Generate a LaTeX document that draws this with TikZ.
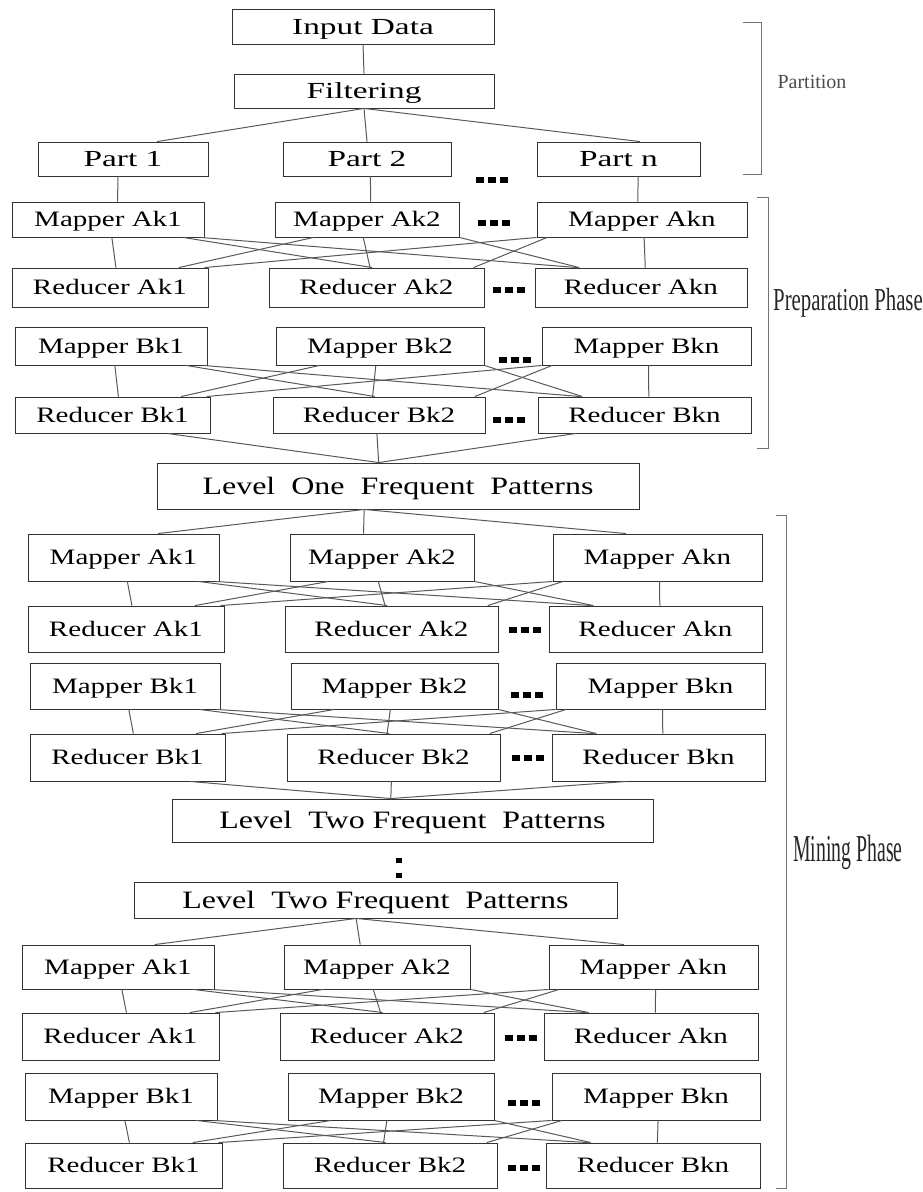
\documentclass[tikz,border=0pt]{standalone}
\usepackage{fontspec}
\setmainfont{Liberation Serif}
\newfontfamily\topfont[FakeStretch=1.45]{Liberation Serif}
\newfontfamily\boxfont[FakeStretch=1.32]{Liberation Serif}
\newfontfamily\levelfont[FakeStretch=1.28]{Liberation Serif}
\newfontfamily\prepfont[FakeStretch=0.65]{Liberation Serif}
\newfontfamily\minefont[FakeStretch=0.52]{Liberation Serif}
\usetikzlibrary{calc,positioning}
\newcommand{\sqdots}{\rule{8pt}{6pt}\hspace{4pt}\rule{8pt}{6pt}\hspace{4pt}\rule{8pt}{6pt}}
\newcommand{\sqcolon}{\vbox{\hbox{\rule{6pt}{5pt}}\kern3pt\hbox{\rule{6pt}{5pt}}}}

\begin{document}
\begin{tikzpicture}[x=1pt, y=-1pt,
    box/.style={draw=black!80, line width=0.9pt, inner sep=0pt, text depth=0pt},
    boxsize/.style 2 args={minimum width=#1pt, minimum height=#2pt},
    topbox/.style={box, text height=15.2pt, font=\topfont\fontsize{23}{25}\selectfont},
    mrbox/.style={box, text height=14.5pt, font=\boxfont\fontsize{22}{24}\selectfont},
    lvlbox/.style={box, text height=16.5pt, font=\levelfont\fontsize{25}{27}\selectfont},
    link/.style={draw=black!65, line width=1pt},
    bracket/.style={draw=black!55, line width=1pt},
    dotsnode/.style={inner sep=0pt}]
    \useasboundingbox (0,0) rectangle (923,1192);

    % Partition
    \node[topbox, boxsize={262}{35}] (in) at (363,26.5) {Input Data};
    \node[topbox, boxsize={260}{34}] (filt) at (364,91) {Filtering};
    \node[topbox, boxsize={170}{34}] (p1) at (123,159) {Part 1};
    \node[topbox, boxsize={168}{34}] (p2) at (367,159) {Part 2};
    \node[topbox, boxsize={163}{34}] (pn) at (618.5,159) {Part n};
    \node[dotsnode] (pdots) at (492,180) {\sqdots};

    % Preparation phase
    \node[mrbox, boxsize={192}{35}] (pam1) at (108,219.5) {Mapper Ak1};
    \node[mrbox, boxsize={184}{35}] (pam2) at (367,219.5) {Mapper Ak2};
    \node[mrbox, boxsize={210}{35}] (pamn) at (642,219.5) {Mapper Akn};
    \node[dotsnode] (pamdots) at (494,223) {\sqdots};
    \node[mrbox, boxsize={196}{39}] (par1) at (110,287.5) {Reducer Ak1};
    \node[mrbox, boxsize={215}{39}] (par2) at (376.5,287.5) {Reducer Ak2};
    \node[mrbox, boxsize={212}{39}] (parn) at (641,287.5) {Reducer Akn};
    \node[dotsnode] (pardots) at (509,290) {\sqdots};
    \node[mrbox, boxsize={192}{38}] (pbm1) at (111,346) {Mapper Bk1};
    \node[mrbox, boxsize={208}{38}] (pbm2) at (380,346) {Mapper Bk2};
    \node[mrbox, boxsize={209}{38}] (pbmn) at (646.5,346) {Mapper Bkn};
    \node[dotsnode] (pbmdots) at (515,360) {\sqdots};
    \node[mrbox, boxsize={195}{36}] (pbr1) at (112.5,415) {Reducer Bk1};
    \node[mrbox, boxsize={212}{36}] (pbr2) at (379,415) {Reducer Bk2};
    \node[mrbox, boxsize={213}{36}] (pbrn) at (644.5,415) {Reducer Bkn};
    \node[dotsnode] (pbrdots) at (509,420) {\sqdots};

    \node[lvlbox, boxsize={482}{46}] (lone) at (398,486) {Level\ \ One\ \ Frequent\ \ Patterns};

    % Mining phase
    \node[mrbox, boxsize={191}{47}] (mam1) at (123.5,557.5) {Mapper Ak1};
    \node[mrbox, boxsize={184}{47}] (mam2) at (382,557.5) {Mapper Ak2};
    \node[mrbox, boxsize={209}{47}] (mamn) at (657.5,557.5) {Mapper Akn};
    \node[mrbox, boxsize={196}{46}] (mar1) at (126,629) {Reducer Ak1};
    \node[mrbox, boxsize={213}{46}] (mar2) at (391.5,629) {Reducer Ak2};
    \node[mrbox, boxsize={213}{46}] (marn) at (655.5,629) {Reducer Akn};
    \node[dotsnode] (mardots) at (525,630) {\sqdots};
    \node[mrbox, boxsize={190}{46}] (mbm1) at (125,686) {Mapper Bk1};
    \node[mrbox, boxsize={207}{46}] (mbm2) at (394.5,686) {Mapper Bk2};
    \node[mrbox, boxsize={209}{46}] (mbmn) at (660.5,686) {Mapper Bkn};
    \node[dotsnode] (mbmdots) at (527,695) {\sqdots};
    \node[mrbox, boxsize={195}{47}] (mbr1) at (127.5,757.5) {Reducer Bk1};
    \node[mrbox, boxsize={213}{47}] (mbr2) at (393.5,757.5) {Reducer Bk2};
    \node[mrbox, boxsize={213}{47}] (mbrn) at (658.5,757.5) {Reducer Bkn};
    \node[dotsnode] (mbrdots) at (528,758) {\sqdots};

    \node[lvlbox, boxsize={481}{43}] (ltwo) at (412.5,820.5) {Level\ \ Two Frequent\ \ Patterns};
    \node[dotsnode] (vdots) at (399,868) {\sqcolon};
    \node[lvlbox, boxsize={483}{36}] (ltwob) at (375.5,900) {Level\ \ Two Frequent\ \ Patterns};

    \node[mrbox, boxsize={192}{44}] (nam1) at (118,967) {Mapper Ak1};
    \node[mrbox, boxsize={186}{44}] (nam2) at (377,967) {Mapper Ak2};
    \node[mrbox, boxsize={209}{44}] (namn) at (653.5,967) {Mapper Akn};
    \node[mrbox, boxsize={197}{47}] (nar1) at (120.5,1036.5) {Reducer Ak1};
    \node[mrbox, boxsize={214}{47}] (nar2) at (387,1036.5) {Reducer Ak2};
    \node[mrbox, boxsize={214}{47}] (narn) at (651,1036.5) {Reducer Akn};
    \node[dotsnode] (nardots) at (521,1038) {\sqdots};
    \node[mrbox, boxsize={192}{47}] (nbm1) at (121,1096.5) {Mapper Bk1};
    \node[mrbox, boxsize={206}{47}] (nbm2) at (391,1096.5) {Mapper Bk2};
    \node[mrbox, boxsize={208}{47}] (nbmn) at (656,1096.5) {Mapper Bkn};
    \node[dotsnode] (nbmdots) at (524,1103) {\sqdots};
    \node[mrbox, boxsize={197}{45}] (nbr1) at (123.5,1165.5) {Reducer Bk1};
    \node[mrbox, boxsize={214}{45}] (nbr2) at (390,1165.5) {Reducer Bk2};
    \node[mrbox, boxsize={214}{45}] (nbrn) at (653,1165.5) {Reducer Bkn};
    \node[dotsnode] (nbrdots) at (524,1168) {\sqdots};

    % Tree links
    \draw[link] (in.south) -- (filt.north);
    \draw[link] (filt.south) -- ($(p1.north west)!.7!(p1.north east)$);
    \draw[link] (filt.south) -- ($(p2.north west)!.5!(p2.north east)$);
    \draw[link] (filt.south) -- ($(pn.north west)!.63!(pn.north east)$);
    \draw[link] ($(p1.south west)!.47!(p1.south east)$) -- ($(pam1.north west)!.55!(pam1.north east)$);
    \draw[link] ($(p2.south west)!.52!(p2.south east)$) -- ($(pam2.north west)!.52!(pam2.north east)$);
    \draw[link] ($(pn.south west)!.62!(pn.south east)$) -- ($(pamn.north west)!.48!(pamn.north east)$);
    \draw[link] ($(pbr1.south west)!.78!(pbr1.south east)$) -- ($(lone.north west)!.46!(lone.north east)$);
    \draw[link] ($(pbr2.south west)!.49!(pbr2.south east)$) -- ($(lone.north west)!.46!(lone.north east)$);
    \draw[link] ($(pbrn.south west)!.18!(pbrn.south east)$) -- ($(lone.north west)!.46!(lone.north east)$);
    \draw[link] ($(lone.south west)!.43!(lone.south east)$) -- ($(mam1.north west)!.68!(mam1.north east)$);
    \draw[link] ($(lone.south west)!.43!(lone.south east)$) -- ($(mam2.north west)!.4!(mam2.north east)$);
    \draw[link] ($(lone.south west)!.43!(lone.south east)$) -- ($(mamn.north west)!.35!(mamn.north east)$);
    \draw[link] ($(mbr1.south west)!.82!(mbr1.south east)$) -- ($(ltwo.north west)!.455!(ltwo.north east)$);
    \draw[link] ($(mbr2.south west)!.49!(mbr2.south east)$) -- ($(ltwo.north west)!.455!(ltwo.north east)$);
    \draw[link] ($(mbrn.south west)!.35!(mbrn.south east)$) -- ($(ltwo.north west)!.455!(ltwo.north east)$);
    \draw[link] ($(ltwob.south west)!.46!(ltwob.south east)$) -- ($(nam1.north west)!.69!(nam1.north east)$);
    \draw[link] ($(ltwob.south west)!.46!(ltwob.south east)$) -- ($(nam2.north west)!.41!(nam2.north east)$);
    \draw[link] ($(ltwob.south west)!.46!(ltwob.south east)$) -- ($(namn.north west)!.36!(namn.north east)$);

    % Mapper to reducer links
    \foreach \blk in {pa,pb,ma,mb,na,nb}{
        \foreach \i/\j/\fout/\fin in {1/1/.52/.53, 1/2/.89/.48, 1/n/.98/.2,
                                      2/1/.21/.85, 2/2/.48/.47, 2/n/1/.21,
                                      n/1/0/.98, n/2/.05/.95, n/n/.51/.52}
            \draw[link] ($(\blk m\i.south west)!\fout!(\blk m\i.south east)$) -- ($(\blk r\j.north west)!\fin!(\blk r\j.north east)$);
    }

    % Brackets and phase labels
    \draw[bracket] (743,22) -- (761,22) -- (761,174) -- (743,174);
    \node[font=\fontsize{20}{22}\selectfont, text=black!70] (partlbl) at (812,82) {Partition};
    \draw[bracket] (757,197) -- (768,197) -- (768,448) -- (757,448);
    \node[font=\prepfont\fontsize{32}{34}\selectfont, text=black!85] (preplbl) at (848,303) {Preparation Phase};
    \draw[bracket] (776,515) -- (786,515) -- (786,1188) -- (776,1188);
    \node[font=\minefont\fontsize{38}{40}\selectfont, text=black!85] (minelbl) at (848,852) {Mining Phase};
\end{tikzpicture}
\end{document}
